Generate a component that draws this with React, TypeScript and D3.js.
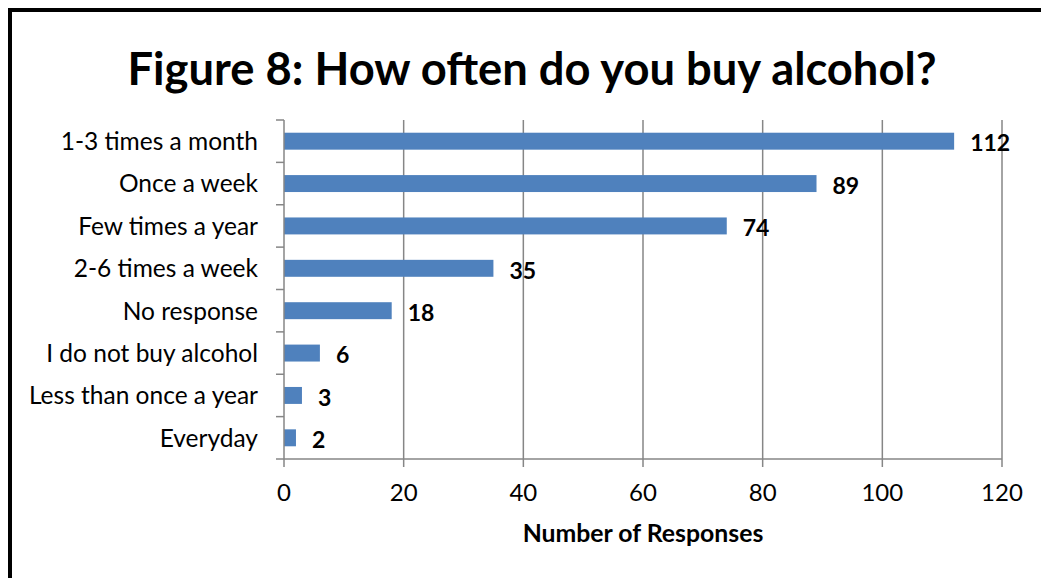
import React from "react";
import * as d3 from "d3";

const categories = [
  "1-3 times a month",
  "Once a week",
  "Few times a year",
  "2-6 times a week",
  "No response",
  "I do not buy alcohol",
  "Less than once a year",
  "Everyday",
];
const values = [112, 89, 74, 35, 18, 6, 3, 2];
const xTicks = [0, 20, 40, 60, 80, 100, 120];
const title = "Figure 8: How often do you buy alcohol?";
const xTitle = "Number of Responses";

const W = 1041;
const H = 578;
const FONT = "Lato, 'Open Sans', sans-serif";
const GRID = "#868686";
const BAR = "#4F81BD";

export default function App() {
  const x = d3.scaleLinear().domain([0, 120]).range([284, 1002]);
  const y = d3
    .scaleBand<string>()
    .domain(categories)
    .range([120, 459])
    .paddingInner(0.6)
    .paddingOuter(0.3);
  const step = y.step();
  const bounds = d3.range(categories.length + 1).map((i) => 120 + i * step);

  return (
    <svg
      width={W}
      height={H}
      style={{ position: "absolute", left: 0, top: 0, background: "#fff" }}
    >
      <rect x={0} y={0} width={W} height={H} fill="#fff" />
      <rect x={10} y={10} width={W + 20} height={H + 20} fill="none" stroke="#000" strokeWidth={4} />
      <text
        x={532}
        y={85}
        textAnchor="middle"
        fontFamily={FONT}
        fontWeight="bold"
        fontSize={45.3}
        fill="#000"
      >
        {title}
      </text>
      {/* gridlines */}
      {xTicks.slice(1).map((t) => (
        <line key={"g" + t} x1={x(t)} x2={x(t)} y1={120} y2={459} stroke={GRID} strokeWidth={1.5} />
      ))}
      {/* value axis ticks */}
      {xTicks.map((t) => (
        <line key={"t" + t} x1={x(t)} x2={x(t)} y1={459} y2={467} stroke={GRID} strokeWidth={1.5} />
      ))}
      {/* category axis ticks */}
      {bounds.map((b, i) => (
        <line key={"c" + i} x1={276} x2={284} y1={b} y2={b} stroke={GRID} strokeWidth={1.5} />
      ))}
      {/* bars */}
      {categories.map((c, i) => (
        <rect
          key={c}
          x={x(0)}
          y={y(c)!}
          width={x(values[i]) - x(0)}
          height={y.bandwidth()}
          fill={BAR}
        />
      ))}
      {/* axes lines */}
      <line x1={284} x2={1002} y1={459} y2={459} stroke={GRID} strokeWidth={1.5} />
      <line x1={284} x2={284} y1={120} y2={459} stroke={GRID} strokeWidth={1.5} />
      {/* category labels */}
      {categories.map((c) => (
        <text
          key={"l" + c}
          x={258}
          y={y(c)! + y.bandwidth() / 2}
          dy="0.36em"
          textAnchor="end"
          fontFamily={FONT}
          fontSize={24.5}
          fill="#000"
        >
          {c}
        </text>
      ))}
      {/* value labels */}
      {categories.map((c, i) => (
        <text
          key={"v" + c}
          x={x(values[i]) + 16}
          y={y(c)! + y.bandwidth() / 2 + 2}
          dy="0.36em"
          fontFamily={FONT}
          fontWeight="bold"
          fontSize={23}
          fill="#000"
        >
          {values[i]}
        </text>
      ))}
      {/* tick labels */}
      {xTicks.map((t) => (
        <text
          key={"x" + t}
          x={x(t)}
          y={501}
          textAnchor="middle"
          fontFamily={FONT}
          fontSize={24}
          fill="#000"
        >
          {t}
        </text>
      ))}
      <text
        x={643}
        y={542}
        textAnchor="middle"
        fontFamily={FONT}
        fontWeight="bold"
        fontSize={24.8}
        fill="#000"
      >
        {xTitle}
      </text>
    </svg>
  );
}
